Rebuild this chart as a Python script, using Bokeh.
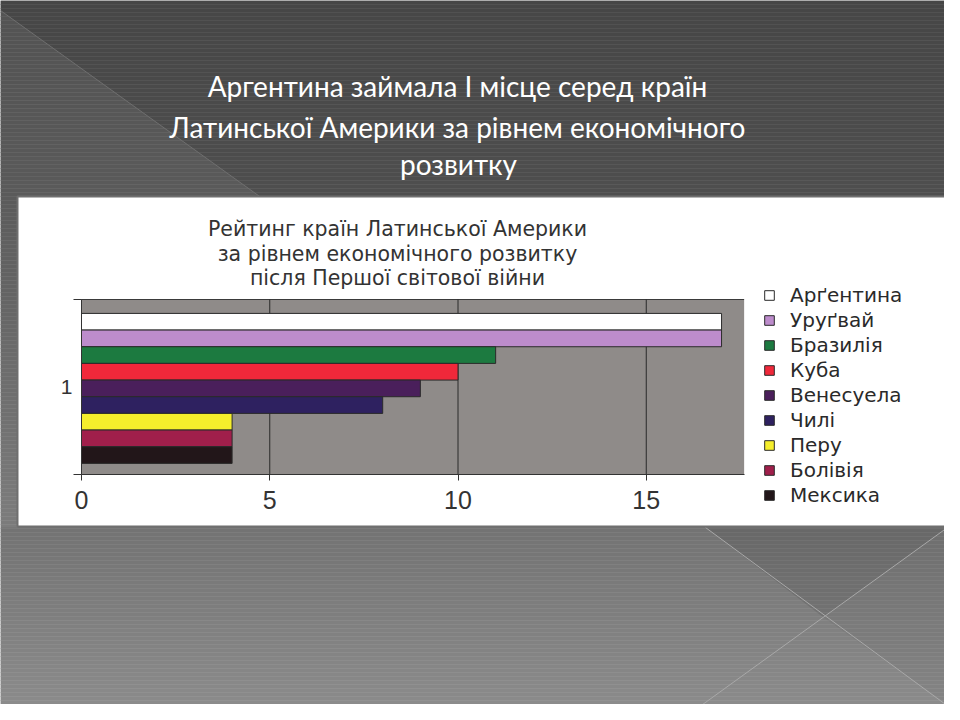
import numpy as np
from bokeh.plotting import figure
from bokeh.models import Range1d, LinearAxis, FixedTicker, ColumnDataSource
from bokeh.core.properties import value
from bokeh.embed import file_html
from bokeh.resources import INLINE

# ---------------- data ----------------
countries = ["Арґентина", "Уруґвай", "Бразилія", "Куба", "Венесуела",
             "Чилі", "Перу", "Болівія", "Мексика"]
ratings = [17, 17, 11, 10, 9, 8, 4, 4, 4]
bar_colors = ["#ffffff", "#bd8ccc", "#1c7a40", "#f0283a", "#4a1f5b",
              "#2e2160", "#f5ee2c", "#a01f4b", "#221619"]
category_labels = ["1"]
x_ticks = [0, 5, 10, 15]
x_max = 17.6

slide_title = ["Аргентина займала І місце серед країн",
               "Латинської Америки за рівнем економічного",
               "розвитку"]
chart_title = ["Рейтинг країн Латинської Америки",
               "за рівнем економічного розвитку",
               "після Першої світової війни"]

# ---------------- layout constants (picture pixels) ----------------
W, H = 944, 704
X0_PX, PX_PER_UNIT = 81.0, 37.65        # chart x: value 0 at x=81
Y0_PX, PX_PER_CAT = 474.0, 175.0        # chart y: category box bottom at y=474

p = figure(width=W, height=H, x_range=Range1d(0, W), y_range=Range1d(H, 0),
           x_axis_type=None, y_axis_type=None, toolbar_location=None,
           output_backend="svg", min_border=0, outline_line_color=None)
p.extra_x_ranges = {"cx": Range1d((0 - X0_PX) / PX_PER_UNIT, (W - X0_PX) / PX_PER_UNIT)}
p.extra_y_ranges = {"cy": Range1d((Y0_PX - H) / PX_PER_CAT, (Y0_PX - 0) / PX_PER_CAT)}

# ---------------- slide background ----------------
band = 4
tops = np.arange(0, 724, band)
stops_y = [0, 190, 530, 720]
stops_v = [0x46, 0x4e, 0x73, 0x8d]
levels = np.interp(tops + band / 2, stops_y, stops_v).round().astype(int)
band_colors = ["#%02x%02x%02x" % (v, v, v) for v in levels]
p.quad(left=0, right=960, top=tops, bottom=tops + band, fill_color=band_colors,
       line_color=band_colors, line_width=0.5)

# lighter left triangle and its edge
p.patch([0, 258, 258, 17, 17, 0], [10, 195, 300, 527, 527, 527],
        fill_color="white", fill_alpha=0.07, line_color=None)
p.line([0, 262], [10, 198], line_color="#6e6e6e", line_width=1)

# bottom-right crossing lines with shaded triangles
p.patch([705, 947, 823], [527, 527, 617], fill_color="black", fill_alpha=0.09, line_color=None)
p.patch([823, 947, 960, 960], [617, 527, 527, 713], fill_color="black", fill_alpha=0.04, line_color=None)
p.line([705, 960], [527, 715], line_color="#a8a8a8", line_width=1)
p.line([947, 680], [527, 720], line_color="#a8a8a8", line_width=1)

# slide title
p.text(x=[457, 457, 458], y=[85, 126, 163], text=slide_title, text_align="center",
       text_baseline="middle", text_font=value("Lato"), text_font_size="28px",
       text_color="white")

# white panel
p.quad(left=17, right=953, top=196, bottom=526, fill_color="white",
       line_color="#6f6f6f", line_width=2)

# chart title
p.text(x=[397, 397, 397], y=[228, 253, 277], text=chart_title, text_align="center",
       text_baseline="middle", text_font=value("DejaVu Sans"), text_font_size="20.5px",
       text_color="#333333")

# ---------------- chart ----------------
# plot area
p.quad(left=0, right=x_max, bottom=0, top=1, x_range_name="cx", y_range_name="cy",
       fill_color="#8f8b89", line_color=None)
p.segment(x0=0, x1=x_max, y0=1, y1=1, x_range_name="cx", y_range_name="cy",
          line_color="#3a3a3a", line_width=1)
# vertical grid lines at tick values
p.segment(x0=x_ticks, x1=x_ticks, y0=[0] * len(x_ticks), y1=[1] * len(x_ticks),
          x_range_name="cx", y_range_name="cy", line_color="#2a2a2a", line_width=1)

# dodged bars inside the single category
n = len(countries)
bar_h = 0.857 / n
centers = [0.492 + (n / 2 - i - 0.5) * bar_h for i in range(n)]
src = ColumnDataSource(dict(country=countries, rating=ratings, y=centers, color=bar_colors))
p.hbar(y="y", left=0, right="rating", height=bar_h, source=src,
       x_range_name="cx", y_range_name="cy", fill_color="color",
       line_color="#2a2a2a", line_width=1, legend_field="country")

# axes
xaxis = LinearAxis(x_range_name="cx", y_range_name="cy", fixed_location=0,
                   bounds=(0, x_max), ticker=FixedTicker(ticks=x_ticks, minor_ticks=[]))
xaxis.axis_line_color = "#333333"
xaxis.major_tick_line_color = "#333333"
xaxis.major_tick_out = 6
xaxis.major_tick_in = 0
xaxis.minor_tick_out = 0
xaxis.major_label_standoff = 10
xaxis.major_label_text_font = "Liberation Sans"
xaxis.major_label_text_font_size = "25px"
xaxis.major_label_text_color = "#333333"
p.add_layout(xaxis, "below")

yaxis = LinearAxis(x_range_name="cx", y_range_name="cy", fixed_location=0,
                   bounds=(0, 1), ticker=FixedTicker(ticks=[0.5], minor_ticks=[0, 1]),
                   major_label_overrides={0.5: category_labels[0]})
yaxis.axis_line_color = "#333333"
yaxis.major_tick_out = 0
yaxis.major_tick_in = 0
yaxis.minor_tick_out = 8
yaxis.minor_tick_in = 0
yaxis.minor_tick_line_color = "#333333"
yaxis.major_label_standoff = 1
yaxis.major_label_text_font = "Liberation Sans"
yaxis.major_label_text_font_size = "21px"
yaxis.major_label_text_color = "#333333"
p.add_layout(yaxis, "left")

# legend
leg = p.legend[0]
leg.location = (763, 197)
leg.padding = 0
leg.margin = 0
leg.spacing = 1
leg.glyph_width = 12
leg.glyph_height = 12
leg.label_height = 21
leg.label_standoff = 15
leg.label_text_font = "DejaVu Sans"
leg.label_text_font_size = "20px"
leg.label_text_color = "#2a2a2a"
leg.border_line_color = None
leg.background_fill_alpha = 0

open("out.html", "w").write(file_html(p, INLINE))
